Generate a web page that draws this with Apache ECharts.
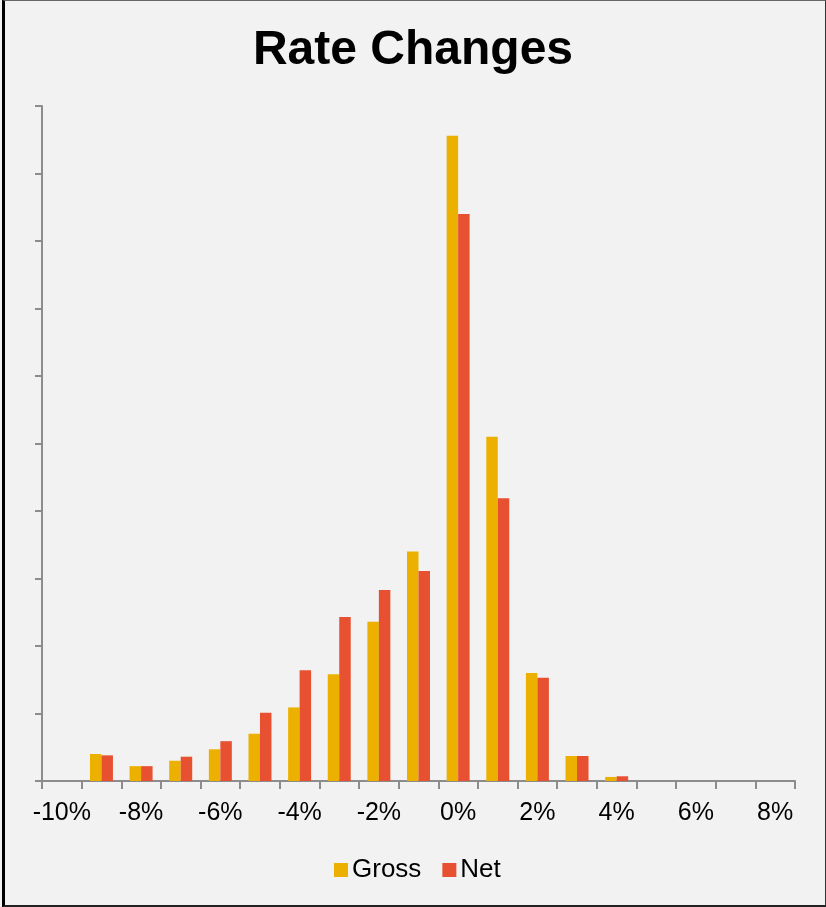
<!DOCTYPE html>
<html>
<head>
<meta charset="utf-8">
<title>Rate Changes</title>
<script src="https://cdn.jsdelivr.net/npm/echarts@6/dist/echarts.min.js"></script>
<style>
	html,body{margin:0;padding:0;background:#f2f2f2;}
	#main{position:absolute;left:0;top:0;width:826px;height:907px;}
	#frame{position:absolute;left:2px;top:0;width:824px;height:907px;box-sizing:border-box;
		border-left:3px solid #000;border-top:1px solid #666;border-right:1px solid #333;border-bottom:2px solid #222;
		pointer-events:none;}
</style>
</head>
<body>
<div id="main"></div>
<div id="frame"></div>
<script>
//x轴类别,每1%一个
var categories = ['-10%','-9%','-8%','-7%','-6%','-5%','-4%','-3%','-2%','-1%','0%','1%','2%','3%','4%','5%','6%','7%','8%'];
//两个系列的数值(y轴无刻度标签,按图中高度估读)
var gross = [0, 2.0, 1.1, 1.5, 2.35, 3.5, 5.45, 7.9, 11.8, 17.0, 47.8, 25.5, 8.0, 1.85, 0.3, 0, 0, 0, 0];
var net   = [0, 1.9, 1.1, 1.8, 2.95, 5.05, 8.2, 12.15, 14.15, 15.55, 42.0, 20.95, 7.65, 1.85, 0.35, 0, 0, 0, 0];
var seriesNames = ['Gross','Net'];

var font = 'Liberation Sans, Arial, sans-serif';
var axisGrey = '#8c8c8c';

var myChart = echarts.init(document.getElementById('main'));
var option = {
	backgroundColor:'#f2f2f2',
	animation:false,
	title:{
		text:'Rate Changes',
		left:'center',
		top:22,
		textStyle:{fontFamily:font,fontSize:48,fontWeight:'bold',color:'#000'}
	},
	legend:{
		data:seriesNames,
		left:329,
		top:852,
		icon:'rect',
		itemWidth:14,
		itemHeight:14,
		itemGap:21,
		textStyle:{fontFamily:font,fontSize:26,color:'#000',padding:[0,0,0,-1]}
	},
	grid:{left:42,right:31,top:106,bottom:126,containLabel:false},
	xAxis:{
		type:'category',
		data:categories,
		boundaryGap:true,
		axisLine:{lineStyle:{color:axisGrey,width:2}},
		axisTick:{show:true,interval:0,length:8,lineStyle:{color:axisGrey,width:2}},
		axisLabel:{interval:1,margin:20,fontFamily:font,fontSize:25,color:'#000'},
		splitLine:{show:false}
	},
	yAxis:{
		type:'value',
		min:0,
		max:50,
		interval:5,
		axisLine:{show:true,lineStyle:{color:axisGrey,width:2}},
		axisTick:{show:true,length:7,lineStyle:{color:axisGrey,width:2}},
		axisLabel:{show:false},
		splitLine:{show:false}
	},
	series:[{
		name:seriesNames[0],
		type:'bar',
		data:gross,
		barGap:'0%',
		barCategoryGap:'42%',
		itemStyle:{color:'#ecb000'}
	},{
		name:seriesNames[1],
		type:'bar',
		data:net,
		barGap:'0%',
		barCategoryGap:'42%',
		itemStyle:{color:'#e75131'}
	}]
};
myChart.setOption(option);
</script>
</body>
</html>
